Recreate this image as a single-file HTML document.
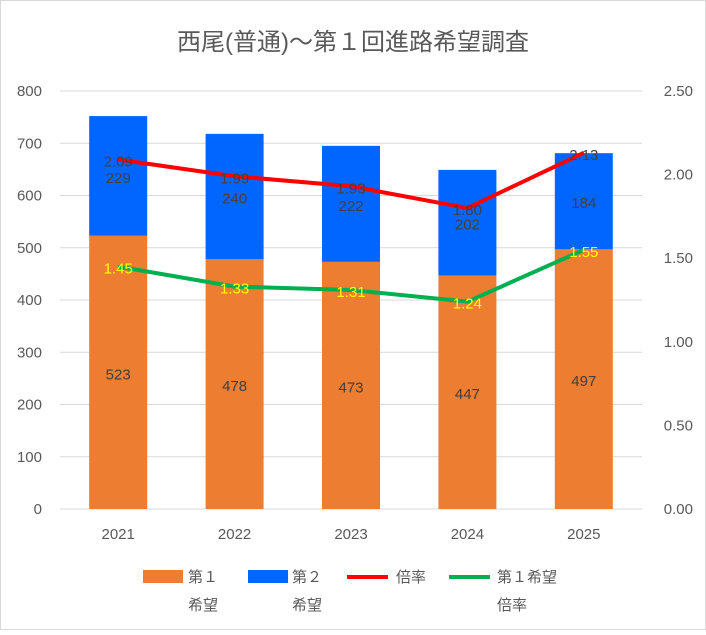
<!DOCTYPE html>
<html><head><meta charset="utf-8"><style>
html,body{margin:0;padding:0;background:#fff;}
svg text{font-family:"Liberation Sans","Noto Sans CJK JP",sans-serif;}
</style></head><body>
<svg id="chart" width="706" height="630" xmlns="http://www.w3.org/2000/svg">
<rect x="0.5" y="0.5" width="705" height="629" fill="#fff" stroke="#d9d9d9"/>
<text x="353" y="50" text-anchor="middle" font-size="24" fill="#595959">西尾(普通)～第１回進路希望調査</text>
<g id="grid"></g><g id="bars"></g><g id="lines"></g><g id="labels"></g><g id="axes"></g>
<g>
<rect x="143" y="570" width="40" height="13" fill="#ed7d31"/>
<text x="188" y="582" font-size="15" fill="#595959">第１</text>
<text x="188" y="610" font-size="15" fill="#595959">希望</text>
<rect x="248" y="570" width="40" height="13" fill="#0066ff"/>
<text x="292" y="582" font-size="15" fill="#595959">第２</text>
<text x="292" y="610" font-size="15" fill="#595959">希望</text>
<line x1="347" y1="577" x2="388" y2="577" stroke="#ff0000" stroke-width="4"/>
<text x="396" y="582" font-size="15" fill="#595959">倍率</text>
<line x1="449" y1="577" x2="490" y2="577" stroke="#00b050" stroke-width="4"/>
<text x="497" y="582" font-size="15" fill="#595959">第１希望</text>
<text x="497" y="610" font-size="15" fill="#595959">倍率</text>
</g>
</svg>
<script>
const categories=["2021","2022","2023","2024","2025"];
const firstChoice=[523,478,473,447,497];
const secondChoice=[229,240,222,202,184];
const ratio=[2.09,1.99,1.93,1.80,2.13];
const firstRatio=[1.45,1.33,1.31,1.24,1.55];
const leftTicks=[0,100,200,300,400,500,600,700,800];
const rightTicks=["0.00","0.50","1.00","1.50","2.00","2.50"];

const NS="http://www.w3.org/2000/svg";
const x0=60,x1=642,yb=509,yt=91;
const yL=v=>yb-(v/800)*(yb-yt);
const yR=v=>yb-(v/2.5)*(yb-yt);
const step=(x1-x0)/categories.length;
const xc=i=>x0+step*(i+0.5);
const bw=58;
function mk(tag,attrs,parent,txt){const e=document.createElementNS(NS,tag);for(const k in attrs)e.setAttribute(k,attrs[k]);if(txt!=null)e.textContent=txt;document.getElementById(parent).appendChild(e);return e;}
leftTicks.forEach(t=>{
 const g=mk('line',{x1:x0,x2:x1,y1:yL(t),y2:yL(t),stroke:'#d9d9d9','stroke-width':1},'grid');
 
 
 const l=mk('text',{x:42,y:yL(t)+5,'text-anchor':'end','font-size':15,fill:'#595959'},'axes',t);
 
 
});
rightTicks.forEach(t=>{
 const l=mk('text',{x:693,y:yR(parseFloat(t))+5,'text-anchor':'end','font-size':15,fill:'#595959'},'axes',t);
 
 
});
categories.forEach((c,i)=>{
 const l=mk('text',{x:xc(i),y:539,'text-anchor':'middle','font-size':15,fill:'#595959'},'axes',c);
 
 
 const b1=mk('rect',{x:xc(i)-bw/2,y:yL(firstChoice[i]),width:bw,height:yb-yL(firstChoice[i]),fill:'#ed7d31'},'bars');
 
 
 const top=firstChoice[i]+secondChoice[i];
 const b2=mk('rect',{x:xc(i)-bw/2,y:yL(top),width:bw,height:yL(firstChoice[i])-yL(top),fill:'#0066ff'},'bars');
 
 
 const t1=mk('text',{x:xc(i),y:yL(firstChoice[i]/2)+7,'text-anchor':'middle','font-size':15,fill:'#404040'},'labels',firstChoice[i]);
 
 
 const t2=mk('text',{x:xc(i),y:yL(firstChoice[i]+secondChoice[i]/2)+7,'text-anchor':'middle','font-size':15,fill:'#404040'},'labels',secondChoice[i]);
 
 
 const t3=mk('text',{x:xc(i),y:yR(ratio[i])+7,'text-anchor':'middle','font-size':15,fill:'#404040'},'labels',ratio[i].toFixed(2));
 
 
 const t4=mk('text',{x:xc(i),y:yR(firstRatio[i])+7,'text-anchor':'middle','font-size':15,fill:'#ffff00'},'labels',firstRatio[i].toFixed(2));
 
 
});
const p1=mk('polyline',{points:ratio.map((v,i)=>xc(i)+','+yR(v)).join(' '),fill:'none',stroke:'#ff0000','stroke-width':4,'stroke-linejoin':'round'},'lines');


const p2=mk('polyline',{points:firstRatio.map((v,i)=>xc(i)+','+yR(v)).join(' '),fill:'none',stroke:'#00b050','stroke-width':4,'stroke-linejoin':'round'},'lines');


</script>
</body></html>
